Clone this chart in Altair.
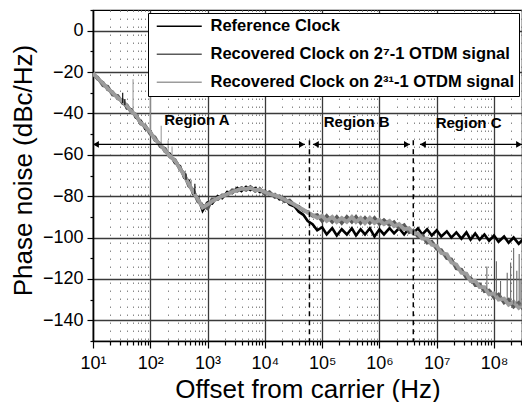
import altair as alt
import pandas as pd

# ---------------- data ----------------
freq_hz = [
    10, 12, 15, 18, 22, 27, 33, 39, 47, 56, 68, 82,
    100, 120, 150, 180, 220, 270, 330, 390, 470, 560, 680, 820,
    1e3, 1.2e3, 1.5e3, 1.8e3, 2.2e3, 2.7e3, 3.3e3, 3.9e3, 4.7e3, 5.6e3, 6.8e3, 8.2e3,
    1e4, 1.2e4, 1.5e4, 1.8e4, 2.2e4, 2.7e4, 3.3e4, 3.9e4, 4.7e4, 5.6e4, 6.8e4, 8.2e4,
    1e5, 1.2e5, 1.5e5, 1.8e5, 2.2e5, 2.7e5, 3.3e5, 3.9e5, 4.7e5, 5.6e5, 6.8e5, 8.2e5,
    1e6, 1.2e6, 1.5e6, 1.8e6, 2.2e6, 2.7e6, 3.3e6, 3.9e6, 4.7e6, 5.6e6, 6.8e6, 8.2e6,
    1e7, 1.2e7, 1.5e7, 1.8e7, 2.2e7, 2.7e7, 3.3e7, 3.9e7, 4.7e7, 5.6e7, 6.8e7, 8.2e7,
    1e8, 1.2e8, 1.5e8, 1.8e8, 2.2e8, 2.7e8, 3.3e8, 3.9e8,
]

ref_clock = [
    -21, -23.5, -25, -28.5, -29.5, -33, -33.5, -37.5, -38, -42, -43.5, -47.5,
    -48.5, -53, -54.5, -58.5, -59.5, -64, -65.5, -71, -72.5, -79, -80.5, -87,
    -83, -83.5, -80, -81, -78, -78.5, -76, -77.5, -75.5, -77, -76, -78,
    -77.5, -79.5, -79, -81.5, -81, -84, -85, -87.5, -89, -92, -93.5, -96.5,
    -95, -98.5, -95.5, -99, -96, -98.5, -95.5, -99, -96, -98.5, -95.5, -99.5,
    -96, -98.5, -95.5, -98, -95.5, -98.5, -95.5, -98, -95.5, -98.5, -96, -99,
    -96.5, -99.5, -97, -100, -97.5, -100.5, -97.5, -101, -98, -101, -98.5, -101.5,
    -99, -102, -99.5, -102.5, -100, -103, -100.5, -103,
]

rec_2_7 = [
    -21.5, -22.5, -26.5, -27, -31, -31.5, -35, -36, -39.5, -40.5, -45, -46,
    -50, -51.5, -56, -57, -61, -62.5, -67, -69, -75, -77, -82.5, -84.5,
    -86, -81.5, -81.5, -79.5, -79.5, -77, -77.5, -76, -77, -75.5, -77.5, -76.5,
    -79, -78, -80.5, -80, -82.5, -82, -84.5, -85, -87, -87.5, -89.5, -89,
    -92, -89.5, -92.5, -90, -93, -90, -92.5, -90, -93, -90.5, -93, -90.5,
    -93.5, -91.5, -94, -92.5, -95.5, -94, -97.5, -96.5, -99.5, -99, -102.5, -102,
    -105.5, -106, -110, -110.5, -115, -115.5, -119.5, -119.5, -123, -122.5, -126, -125.5,
    -129, -127.5, -131.5, -130, -133.5, -131.5, -135, -132.5,
]

rec_2_31 = [
    -20.5, -23, -25.5, -28, -30, -32.5, -34, -36.5, -39, -41, -44.5, -46.5,
    -49, -52.5, -55, -58, -60.5, -63, -66.5, -70, -74, -78, -81.5, -85.5,
    -84, -82.5, -81, -80, -79, -78, -77, -76.5, -76.5, -76, -77, -77,
    -78, -79, -79.5, -80.5, -81.5, -83, -84, -85.5, -86.5, -88, -89, -90.5,
    -89.5, -92, -90, -92.5, -90.5, -92.5, -90, -92.5, -90.5, -93, -90.5, -93,
    -91.5, -93.5, -92, -94.5, -93.5, -96, -95.5, -98, -98, -100.5, -100.5, -103.5,
    -104, -107.5, -108, -112, -113, -117, -117.5, -121, -121, -124, -124, -127.5,
    -127, -130, -129.5, -132.5, -131, -134, -132, -134.5,
]

series_names = [
    "Reference Clock",
    "Recovered Clock on 2\u2077-1 OTDM signal",
    "Recovered Clock on 2\u00b3\u00b9-1 OTDM signal",
]
series_colors = ["#000000", "#5a5a5a", "#9c9c9c"]

# spurs (frequency, top, base)
spur_ref_f = [33, 36, 420, 600]
spur_ref_top = [-30, -33, -69, -74]
spur_ref_base = [-35, -36, -72, -79]

spur_31_f = [50, 100, 155, 205, 240, 520]
spur_31_top = [-23.5, -31, -46, -53, -56, -72]
spur_31_base = [-40, -49, -56, -60, -62, -77.5]

spur_7_f = [7.5e7, 1.1e8, 1.3e8, 1.7e8, 1.95e8, 2.2e8, 2.5e8, 2.75e8, 2.95e8]
spur_7_top = [-114, -111.5, -121, -117, -112, -105, -116, -108, -120]
spur_7_base = [-125, -128, -129, -130, -131, -132, -132, -133, -133]

# region annotations
region_names = ["Region A", "Region B", "Region C"]
region_start = [10, 6.9e4, 5.1e6]
region_end = [5.0e4, 3.4e6, 3.08e8]
region_label_f = [650, 4.0e5, 3.6e7]
region_label_v = [-43, -44, -44.5]
arrow_level = -55
boundary_f = [6.0e4, 3.9e6]
boundary_top = -53

x_decades = [10, 100, 1e3, 1e4, 1e5, 1e6, 1e7, 1e8]
y_ticks = list(range(-150, 11, 10))

# ---------------- build tables ----------------
lines_df = pd.DataFrame({
    "f": freq_hz * 3,
    "v": ref_clock + rec_2_7 + rec_2_31,
    "series": [series_names[0]] * len(freq_hz)
    + [series_names[1]] * len(freq_hz)
    + [series_names[2]] * len(freq_hz),
})

X_MAX = 3.08e8
x_ticks = []
for d in x_decades:
    for m in range(1, 10):
        if d * m <= X_MAX:
            x_ticks.append(d * m)

FONT = "Liberation Sans"
is_dec = "abs(log(datum.value)/LN10 - round(log(datum.value)/LN10)) < 0.001"
sup = "['\u2070','\u00b9','\u00b2','\u00b3','\u2074','\u2075','\u2076','\u2077','\u2078','\u2079']"

x_scale = alt.Scale(type="log", domain=[10, X_MAX], nice=False)
y_scale = alt.Scale(domain=[-150, 10], nice=False, zero=False)

x_axis = alt.Axis(
    values=x_ticks,
    title="Offset from carrier (Hz)",
    labelExpr=f"{is_dec} ? '10' + {sup}[round(log(datum.value)/LN10)] : ''",
    labelOverlap=False, labelFlush=False, labelBound=False,
    labelFontSize=18, labelPadding=6, labelFont=FONT, labelColor="black",
    tickSize={"condition": {"test": is_dec, "value": 7}, "value": 4},
    tickColor="black", tickWidth=1.2,
    domainColor="black", domainWidth=1.5,
    grid=True,
    gridDash={"condition": {"test": is_dec, "value": [1, 0]}, "value": [1.5, 6.5]},
    gridColor={"condition": {"test": is_dec, "value": "#3a3a3a"}, "value": "#8a8a8a"},
    gridWidth={"condition": {"test": is_dec, "value": 1.3}, "value": 1},
    gridOpacity=1,
    titleFontSize=26, titleFontWeight="normal", titleFont=FONT, titleColor="black",
    titleBaseline="alphabetic", titleY=56,
)

y_axis = alt.Axis(
    values=y_ticks,
    title="Phase noise (dBc/Hz)",
    labelExpr="(datum.value % 20 === 0 && datum.value <= 0 && datum.value >= -140) ? datum.label : ''",
    labelOverlap=False, labelFlush=False, labelBound=False,
    labelFontSize=18, labelPadding=4, labelFont=FONT, labelColor="black",
    tickSize={"condition": {"test": "datum.value % 20 === 0", "value": 6}, "value": 3},
    tickColor="black", tickWidth=1.2,
    domainColor="black", domainWidth=1.5,
    grid=True,
    gridColor="#3a3a3a", gridWidth=1.3,
    gridOpacity={"condition": {"test": "datum.value % 20 === 0 && datum.value <= 0 && datum.value >= -140", "value": 1}, "value": 0},
    titleFontSize=26, titleFontWeight="normal", titleFont=FONT, titleColor="black",
    titleBaseline="alphabetic", titleX=-62, titleY=160,
)

X = alt.X("f:Q", scale=x_scale, axis=x_axis)
Y = alt.Y("v:Q", scale=y_scale, axis=y_axis)

legend = alt.Legend(
    title=None, orient="none", legendX=55, legendY=3,
    symbolType="M-1,0H9", symbolSize=81, symbolStrokeWidth=1.6,
    labelFont=FONT, labelFontSize=16.5, labelFontWeight="bold", labelColor="black",
    labelLimit=600, labelOffset=41,
    padding=5, rowPadding=11,
    strokeColor="black", fillColor="white",
)
color = alt.Color(
    "series:N",
    scale=alt.Scale(domain=series_names, range=series_colors),
    legend=legend,
)

layers = []
widths = [2.6, 3.4, 3.8]
for name, w in zip(series_names, widths):
    layers.append(
        alt.Chart(lines_df[lines_df["series"] == name])
        .mark_line(strokeWidth=w, clip=True, strokeJoin="miter")
        .encode(x=X, y=Y, color=color, order=alt.Order("f:Q"))
    )


def spur_layer(fs, tops, bases, col):
    d = pd.DataFrame({"f": fs, "v": tops, "v2": bases})
    return alt.Chart(d).mark_rule(strokeWidth=1.1, color=col, clip=True).encode(
        x=X, y=Y, y2="v2:Q"
    )


spurs = [
    spur_layer(spur_ref_f, spur_ref_top, spur_ref_base, "#000000"),
    spur_layer(spur_31_f, spur_31_top, spur_31_base, "#9c9c9c"),
    spur_layer(spur_7_f, spur_7_top, spur_7_base, "#6a6a6a"),
]

reg_df = pd.DataFrame({
    "f": region_start, "f2": region_end, "v": [arrow_level] * 3,
    "lf": region_label_f, "lv": region_label_v, "label": region_names,
})
arrow_lines = alt.Chart(reg_df).mark_rule(color="black", strokeWidth=1.2, clip=True).encode(
    x=X, x2="f2:Q", y=Y
)
arrow_left = alt.Chart(reg_df).mark_point(
    shape="triangle-left", filled=True, color="black", size=45, opacity=1, xOffset=3
).encode(x=X, y=Y)
arrow_right = alt.Chart(reg_df).mark_point(
    shape="triangle-right", filled=True, color="black", size=45, opacity=1, xOffset=-3
).encode(x=alt.X("f2:Q", scale=x_scale, axis=x_axis), y=Y)
region_text = alt.Chart(reg_df).mark_text(
    font=FONT, fontSize=15, fontWeight="bold", color="black", baseline="middle"
).encode(
    x=alt.X("lf:Q", scale=x_scale, axis=x_axis),
    y=alt.Y("lv:Q", scale=y_scale, axis=y_axis),
    text="label:N",
)

bnd_df = pd.DataFrame({"f": boundary_f, "v": [boundary_top] * 2, "v2": [-150] * 2})
boundaries = alt.Chart(bnd_df).mark_rule(
    color="black", strokeWidth=1.5, strokeDash=[5, 4]
).encode(x=X, y=Y, y2="v2:Q")

chart = (
    alt.layer(*layers, *spurs, boundaries, arrow_lines, arrow_left, arrow_right, region_text)
    .properties(
        width=429, height=331,
        autosize=alt.AutoSizeParams(type="none"),
        padding={"left": 85, "top": 2, "right": 0, "bottom": 61},
        background="white",
    )
    .configure_view(stroke="black", strokeWidth=1.2)
)

chart.save("out.html", embed_options={"renderer": "svg", "actions": False})
